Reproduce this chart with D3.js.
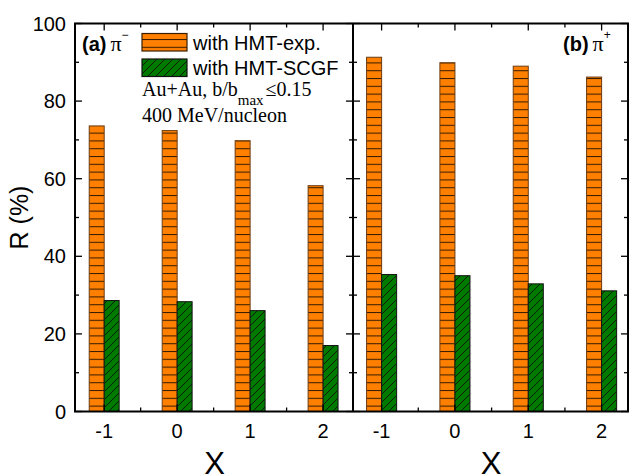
<!DOCTYPE html>
<html><head><meta charset="utf-8">
<script src="https://cdn.jsdelivr.net/npm/d3@7"></script>
<style>body{margin:0;background:#fff}svg{display:block}</style>
</head><body>
<svg id="c" width="630" height="476"></svg>
<script>
const categories = [-1, 0, 1, 2];
const piMinusExp = [73.6, 72.4, 69.8, 58.2];
const piMinusSCGF = [28.6, 28.3, 26.0, 17.0];
const piPlusExp = [91.3, 89.9, 89.0, 86.2];
const piPlusSCGF = [35.3, 35.0, 32.9, 31.1];
const yTicks = [0, 20, 40, 60, 80, 100];
const yMinor = [10, 30, 50, 70, 90];
const xMinor = [-0.5, 0.5, 1.5];
const seriesNames = ["with HMT-exp.", "with HMT-SCGF"];

(function () {
const svg = d3.select("#c");
const yTop = 23.5, yBot = 411.5;
const y = d3.scaleLinear().domain([0, 100]).range([yBot, yTop]);
const panels = [
  {x0: 75, x1: 353, dom: [-1.40, 2.41], exp: piMinusExp, scgf: piMinusSCGF},
  {x0: 353, x1: 628, dom: [-1.39, 2.36], exp: piPlusExp, scgf: piPlusSCGF}
];
const defs = svg.append("defs");
const p1 = defs.append("pattern").attr("id", "orange").attr("patternUnits", "userSpaceOnUse")
  .attr("width", 10).attr("height", 7.8);
p1.append("rect").attr("width", 10).attr("height", 7.8).attr("fill", "#ff8000");
p1.append("line").attr("x1", 0).attr("x2", 10).attr("y1", 0.5).attr("y2", 0.5)
  .attr("stroke", "#3a1e00").attr("stroke-width", 1.1);
const p2 = defs.append("pattern").attr("id", "green").attr("patternUnits", "userSpaceOnUse")
  .attr("width", 8).attr("height", 8);
p2.append("rect").attr("width", 8).attr("height", 8).attr("fill", "#007a00");
p2.append("path").attr("d", "M0,8 L8,0 M-2,2 L2,-2 M6,10 L10,6")
  .attr("stroke", "#111").attr("stroke-width", 0.9);

const bw = 0.205;
panels.forEach(p => {
  const x = d3.scaleLinear().domain(p.dom).range([p.x0, p.x1]);
  const g = svg.append("g");
  g.selectAll("rect.e").data(categories).enter().append("rect")
    .attr("x", d => x(d - bw)).attr("width", d => x(d) - x(d - bw))
    .attr("y", (d, i) => y(p.exp[i])).attr("height", (d, i) => y(0) - y(p.exp[i]))
    .attr("fill", "url(#orange)").attr("stroke", "#6b3a10").attr("stroke-width", 1);
  g.selectAll("rect.s").data(categories).enter().append("rect")
    .attr("x", d => x(d)).attr("width", d => x(d + bw) - x(d))
    .attr("y", (d, i) => y(p.scgf[i])).attr("height", (d, i) => y(0) - y(p.scgf[i]))
    .attr("fill", "url(#green)").attr("stroke", "#111").attr("stroke-width", 1);
  const tick = (v, len) => {
    g.append("line").attr("x1", x(v)).attr("x2", x(v)).attr("y1", yBot).attr("y2", yBot - len)
      .attr("stroke", "#000").attr("stroke-width", 1.3);
    g.append("line").attr("x1", x(v)).attr("x2", x(v)).attr("y1", yTop).attr("y2", yTop + len)
      .attr("stroke", "#000").attr("stroke-width", 1.3);
  };
  categories.forEach(v => tick(v, 7));
  xMinor.forEach(v => tick(v, 4));
  g.selectAll("text.xl").data(categories).enter().append("text")
    .attr("x", d => x(d)).attr("y", 438).attr("text-anchor", "middle")
    .attr("font-family", "Liberation Sans, Arial, sans-serif").attr("font-size", 20)
    .text(d => d);
  g.append("text").attr("x", (p.x0 + p.x1) / 2 + 0.5).attr("y", 474).attr("text-anchor", "middle")
    .attr("font-family", "Liberation Sans, Arial, sans-serif").attr("font-size", 31).text("X");
});

const yt = (xPos, a, b) => {
  yTicks.forEach(v => svg.append("line").attr("x1", xPos + a * 7).attr("x2", xPos + b * 7)
    .attr("y1", y(v)).attr("y2", y(v)).attr("stroke", "#000").attr("stroke-width", 1.3));
  yMinor.forEach(v => svg.append("line").attr("x1", xPos + a * 4).attr("x2", xPos + b * 4)
    .attr("y1", y(v)).attr("y2", y(v)).attr("stroke", "#000").attr("stroke-width", 1.3));
};
yt(75, 0, 1); yt(353, -1, 1); yt(628, 0, -1);

svg.append("rect").attr("x", 75).attr("y", yTop).attr("width", 628 - 75).attr("height", yBot - yTop)
  .attr("fill", "none").attr("stroke", "#000").attr("stroke-width", 2);
svg.append("line").attr("x1", 353).attr("x2", 353).attr("y1", yTop).attr("y2", yBot)
  .attr("stroke", "#000").attr("stroke-width", 2);

svg.selectAll("text.yl").data(yTicks).enter().append("text")
  .attr("x", 66).attr("y", d => y(d) + 7).attr("text-anchor", "end")
  .attr("font-family", "Liberation Sans, Arial, sans-serif").attr("font-size", 20).text(d => d);
svg.append("text").attr("transform", `translate(28,${(yTop + yBot) / 2}) rotate(-90)`)
  .attr("text-anchor", "middle").attr("font-family", "Liberation Sans, Arial, sans-serif")
  .attr("font-size", 25).text("R (%)");

const lab = (xp, txt, sup) => {
  const t = svg.append("text").attr("x", xp).attr("y", 51).attr("font-size", 20);
  t.append("tspan").attr("font-family", "Liberation Sans, Arial, sans-serif").attr("font-weight", "bold").text(txt);
  t.append("tspan").attr("font-family", "Liberation Serif, Times New Roman, serif").attr("font-size", 22).attr("dx", 4).text("π");
  t.append("tspan").attr("font-family", "Liberation Sans, Arial, sans-serif").attr("font-size", 12)
    .attr("dy", -12).text(sup);
};
lab(82, "(a)", "−");
lab(563, "(b)", "+");

const leg = [{fill: "url(#orange)", stroke: "#3a1e00", y: 33.5}, {fill: "url(#green)", stroke: "#111", y: 59}];
leg.forEach((l, i) => {
  svg.append("rect").attr("x", 142).attr("y", l.y).attr("width", 45).attr("height", 17.5)
    .attr("fill", l.fill).attr("stroke", l.stroke).attr("stroke-width", 1.2);
  svg.append("text").attr("x", 193).attr("y", l.y + 16).attr("font-family", "Liberation Sans, Arial, sans-serif")
    .attr("font-size", 20).text(seriesNames[i]);
});
const t1 = svg.append("text").attr("x", 142).attr("y", 96).attr("font-family", "Liberation Serif, Times New Roman, serif").attr("font-size", 20);
t1.append("tspan").text("Au+Au, b/b");
t1.append("tspan").attr("font-size", 15).attr("dy", 9).text("max");
t1.append("tspan").attr("dy", -9).attr("dx", 2).text("≤0.15");
svg.append("text").attr("x", 142).attr("y", 122).attr("font-family", "Liberation Serif, Times New Roman, serif")
  .attr("font-size", 20).text("400 MeV/nucleon");
})();
</script>
</body></html>
